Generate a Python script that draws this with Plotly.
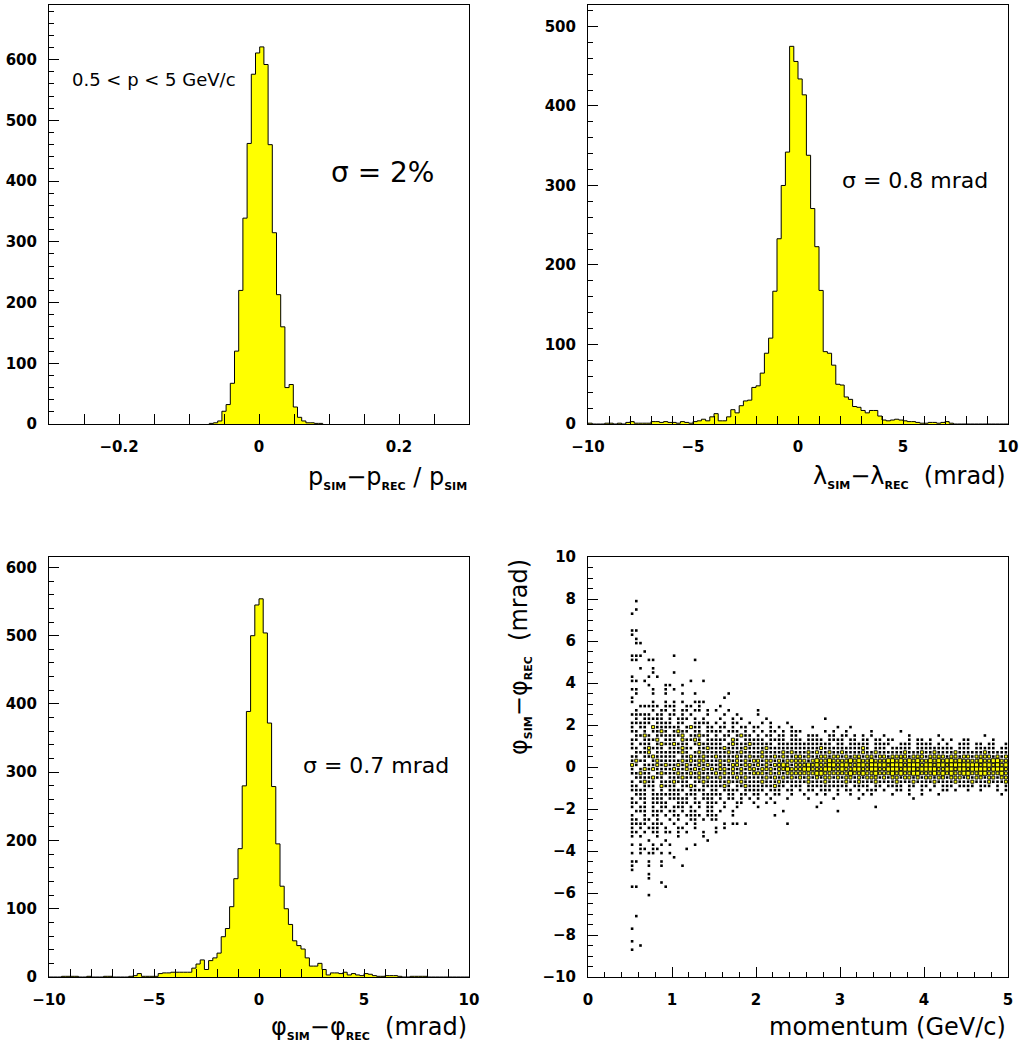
import numpy as np
import plotly.graph_objects as go

W, H = 1021, 1047

# ---------------- data ----------------
# (p_sim - p_rec)/p_sim histogram (top-left)
prel_first_edge = -0.071
prel_bin_width = 0.006
prel_counts = [1, 2, 5, 21, 32, 67, 120, 220, 339, 462, 576, 611, 621, 592, 460,
               315, 213, 160, 60, 65, 28, 11, 5, 2, 2, 1, 1]

# lambda_sim - lambda_rec histogram (top-right), 100 bins on [-10, 10] mrad
lam_lo, lam_hi = -10.0, 10.0
lam_counts = [1, 0, 0, 0, 1, 1, 0, 1, 0, 2,
              3, 1, 1, 1, 1, 3, 3, 2, 3, 2,
              2, 1, 3, 2, 1, 3, 4, 6, 4, 9,
              13, 4, 4, 9, 18, 14, 23, 29, 30, 46,
              48, 64, 89, 108, 167, 233, 300, 342, 475, 456,
              434, 414, 338, 271, 223, 168, 91, 89, 74, 50,
              49, 34, 31, 22, 21, 17, 14, 17, 17, 10,
              5, 4, 5, 6, 5, 4, 3, 3, 2, 1,
              1, 2, 2, 1, 2, 3, 1, 0, 0, 0,
              0, 0, 0, 0, 0, 0, 0, 0, 0, 0]

# phi_sim - phi_rec histogram (bottom-left), 100 bins on [-10, 10] mrad
phi_lo, phi_hi = -10.0, 10.0
phi_counts = [0, 0, 0, 1, 1, 1, 1, 0, 0, 1,
              0, 0, 0, 1, 1, 0, 0, 0, 0, 1,
              2, 5, 1, 1, 1, 1, 5, 6, 6, 7,
              7, 7, 7, 7, 13, 19, 25, 11, 24, 28,
              35, 59, 71, 103, 144, 188, 280, 389, 500, 545,
              554, 504, 372, 279, 195, 133, 100, 77, 53, 46,
              41, 28, 16, 16, 20, 11, 3, 6, 6, 5,
              7, 3, 5, 3, 2, 5, 4, 2, 1, 1,
              2, 2, 2, 1, 0, 0, 1, 1, 1, 1,
              0, 0, 0, 0, 0, 0, 0, 0, 0, 0]

# phi residual vs momentum, box-style 2D histogram (bottom-right)
# columns: momentum bins of 0.05 GeV/c from 0.5 to 5.0; rows: phi bins of 0.2 mrad
mom_centers = np.round(np.arange(0.525, 5.0, 0.05), 3)          # 90 columns
row_centers = np.round(np.arange(3.1, -3.2, -0.2), 1)            # 32 rows, +3.1 ... -3.1
# cell content level: '.' empty, '1' small, '2' medium, '3' large
box_map = [
    "1....1..1. 1.1..111..",
    "..11111.11 1..11.1... .1........",
    ".1...1.11. 1.11.11.1. 1..1...... 1.........",
    "11111.11.1 1.1.1...1. ..1..1.... 1.........",
    ".1.11111.1 .111.1.1.. .1..1.1... ..1....... ......1...",
    "11111.1111 .11..1111. 1.1.11..1. .1.1...1..",
    "1.11.21111 11.1211.11 .11.1.11.1 1..1.1..1. ...1.....1 ..1.......",
    "11.1.1121. 1211.11.11 11.111.1.1 .1.11.1.11 1.....1.1. .1.....1.. ....1.....",
    ".1121.1111 112.11211. 1.11.1211. 1.11.11.11 ..111..11. 11.1.1.1.. 1.....1... ...1...... ....1.....",
    "11.1112.11 1.21121.11 111.21.111 11.1111.11 1.1111.111 1.11.11.11 .11...1.11 .1..1.1..1 1.....1...",
    "1.111.1211 2111.12111 11.1211121 1111.11111 11111111.1 1.11111.11 11..111.11 11.1.1..11 1.11.11..1",
    "11.12111.1 11211.1121 1121111211 1121111111 1111121111 1111121.11 1.11111.11 1111111.11 1.11111.11",
    ".1112.1111 1121.12111 1112112111 1211112121 1121211211 2111121121 1111121112 1121111211 1111211111",
    "11.1121111 1.11211211 2111121121 1211212112 2121122122 1212212212 2122221222 1222212212 2122221212",
    "1211.12111 1121212211 1212121212 2122121222 2212322322 2232322322 2332323232 2323233232 2223223322",
    "21.1112121 1212112121 1211221221 2121223212 2232322332 3322332333 3233323332 3323323333 3332332323",
    "1.12121111 2112121212 1221212122 1222122322 2332223322 3223322332 2333233323 3332233233 2333323332",
    "11211.1211 1211212111 2121212112 2212121222 2222332222 2232232232 2232322332 2232323223 3223322232",
    ".1111211.1 1121112121 1211121211 1121212121 2121212212 1221212221 2122122121 2212212221 2122122122",
    "1.1211.111 2111.11211 1112112111 1211121111 1121112111 1211211121 1112111211 1121111211 1211121112",
    "11.111.211 1.1121.111 1121.11211 1111211.11 1.11111111 11.1111.11 .1111.11.1 1.1.111.11 11.111.1.1",
    "1111.1.1.1 111.1111.1 1.1111.111 11.111.11. 1.11.111.1 .11.1.111. 1..11.1..1 .1..11.1.. 1..1...1.1",
    ".111.11111 11.111.111 11.11.11.1 1.1.11..1. .1..1.1..1 ..1..1.1.. ..1...1..1 ...1...... ........1.",
    "1.11.111.1 1111.1.111 .1.11.1.1. 1..1...1.. ..1.....1. ....1..... .......1..",
    "11.1.1111. .111.11.11 1.1..11..1 ..1.1..... .....1....",
    "1.11.1.11. 111.1.1.11 ..1..1.... 1......... ....1..... ........1.",
    ".111.111.1 1.1.11..11 .1..1..... ......1... .........1",
    "1..1.11.1. 11.1111.11 1...1..... ....1.....",
    "11.11.1..1 .1..11.1.1 1.........",
    "1111.111.. 1..1.1.... ..1.11.1.. .......1..",
    "1.1.111.1. .11..1.... 1.1.......",
    "11.1.11.11 .1.1...1.. 1.........",
]
# isolated entries outside |phi| < 3.2 mrad
out_p = [0.575, 0.575, 0.525, 0.525, 0.575, 0.525, 0.575, 0.575, 0.625, 0.675,
         0.525, 0.575, 0.625, 1.025, 0.525, 0.575, 0.725, 0.775, 1.275, 0.625,
         0.775, 0.775, 1.025, 0.525, 0.725, 0.825, 0.525, 0.575, 0.675, 1.225,
         1.375, 0.725, 0.925, 0.975, 1.125, 0.525, 0.575, 0.775, 0.925, 1.025,
         0.575, 0.775, 0.925, 1.125, 1.275, 1.675, 0.525, 1.625,
         0.525, 0.625, 0.725, 0.825, 0.925, 1.075, 1.375, 1.425,
         0.525, 0.625, 0.775, 0.875, 0.975, 1.275, 0.625, 0.675, 0.775, 0.825,
         1.175, 0.525, 0.625, 0.725, 0.775, 0.875, 0.975, 1.025, 0.525, 0.575,
         0.725, 0.875, 1.125, 0.525, 0.725, 0.875, 0.525, 0.725, 0.725, 0.875,
         0.925, 0.525, 0.575, 0.725, 0.575, 0.525, 0.525, 0.625, 0.525]
out_phi = [7.9, 7.5, 7.3, 6.5, 6.5, 6.3, 6.1, 5.9, 5.9, 5.5,
           5.3, 5.3, 5.3, 5.3, 5.1, 5.1, 5.1, 5.1, 5.1, 4.7,
           4.7, 4.5, 4.5, 4.3, 4.3, 4.3, 4.1, 4.1, 4.1, 4.1,
           4.1, 3.9, 3.9, 3.9, 3.9, 3.7, 3.7, 3.7, 3.7, 3.7,
           3.5, 3.5, 3.5, 3.5, 3.5, 3.5, 3.3, 3.3,
           -3.3, -3.3, -3.5, -3.3, -3.5, -3.3, -3.3, -3.5,
           -3.7, -3.7, -3.7, -3.7, -3.7, -3.7, -3.9, -3.9, -3.9, -3.9,
           -3.9, -4.1, -4.1, -4.1, -4.1, -4.1, -4.1, -4.3, -4.5, -4.5,
           -4.5, -4.5, -4.7, -4.7, -4.7, -4.7, -4.9, -5.1, -5.3, -5.5,
           -5.7, -5.7, -5.7, -6.1, -7.1, -7.7, -8.3, -8.5, -8.7]

# ---------------- helpers ----------------
def step_xy(edges, counts):
    xs = [edges[0]] + list(edges[:-1]) + [edges[-1]]
    ys = [0] + list(counts) + [0]
    return xs, ys

def hist_trace(edges, counts, xa, ya):
    xs, ys = step_xy(edges, counts)
    return go.Scatter(x=xs, y=ys, mode="lines", line=dict(shape="hv", color="black", width=1),
                      fill="tozeroy", fillcolor="#ffff00", xaxis=xa, yaxis=ya,
                      hoverinfo="skip", showlegend=False)

prel_edges = prel_first_edge + prel_bin_width * np.arange(len(prel_counts) + 1)
lam_edges = np.linspace(lam_lo, lam_hi, len(lam_counts) + 1)
phi_edges = np.linspace(phi_lo, phi_hi, len(phi_counts) + 1)

fig = go.Figure()
fig.add_trace(hist_trace(prel_edges, prel_counts, "x", "y"))
fig.add_trace(hist_trace(lam_edges, lam_counts, "x2", "y2"))
fig.add_trace(hist_trace(phi_edges, phi_counts, "x3", "y3"))

# 2D box histogram cells
cells = {"1": ([], []), "2": ([], []), "3": ([], [])}
for j, row in enumerate(box_map):
    s = row.replace(" ", "").ljust(len(mom_centers), ".")[:len(mom_centers)]
    for i, c in enumerate(s):
        if c in cells:
            cells[c][0].append(mom_centers[i])
            cells[c][1].append(row_centers[j])
cells["1"][0].extend(out_p)
cells["1"][1].extend(out_phi)

styles = {
    "1": dict(symbol="square", size=2.6, color="black", line=dict(width=0)),
    "2": dict(symbol="square", size=3.0, color="#ffff00", line=dict(color="black", width=0.9)),
    "3": dict(symbol="square", size=4.0, color="#ffff00", line=dict(color="black", width=0.9)),
}
for k in ["1", "2", "3"]:
    fig.add_trace(go.Scatter(x=cells[k][0], y=cells[k][1], mode="markers", marker=styles[k],
                             xaxis="x4", yaxis="y4", hoverinfo="skip", showlegend=False))

# ---------------- layout ----------------
def px_x(a, b):
    return [a / W, b / W]

def px_y(top, bottom):
    return [1 - bottom / H, 1 - top / H]

TICKFONT = dict(family="DejaVu Sans", size=15, color="black", weight="bold")

def base_axis(domain, rng, anchor):
    return dict(domain=domain, range=rng, anchor=anchor, showline=True, linecolor="black",
                linewidth=1, mirror=True, ticks="inside", tickcolor="black", tickwidth=1,
                showgrid=False, zeroline=False, tickfont=TICKFONT, fixedrange=True,
                automargin=False)

def lab(v):
    return "<b>" + v.replace("-", "\u2212") + "</b>"

XL, XR = px_x(49, 469), px_x(588, 1008)
YT, YB = px_y(5, 424), px_y(556.5, 977)

# top-left x
tl_vals = [round(v, 2) for v in np.arange(-0.25, 0.2501, 0.05)]
tl_names = {-0.2: "-0.2", 0.0: "0", 0.2: "0.2"}
tl_text = [lab(tl_names[v]) if v in tl_names else "" for v in tl_vals]
xaxis = base_axis(XL, [-0.3, 0.3], "y")
xaxis.update(tickvals=tl_vals, ticktext=tl_text, ticklen=10, ticklabelstandoff=9)

mr_vals = list(range(-10, 11))
mr_text = [lab(str(v)) if v % 5 == 0 else "" for v in mr_vals]
xaxis2 = base_axis(XR, [-10, 10], "y2")
xaxis2.update(tickvals=mr_vals, ticktext=mr_text, ticklen=8, ticklabelstandoff=9)
xaxis3 = base_axis(XL, [-10, 10], "y3")
xaxis3.update(tickvals=mr_vals, ticktext=mr_text, ticklen=8, ticklabelstandoff=9)

def hist_y(domain, top, anchor):
    a = base_axis(domain, [0, top], anchor)
    a.update(tick0=0, dtick=100, ticklen=10, ticklabelstandoff=8,
             minor=dict(dtick=20, tick0=0, ticks="inside", ticklen=5, tickcolor="black"))
    return a

yaxis = hist_y(YT, 690, "x")
yaxis2 = hist_y(YT, 527, "x2")
yaxis3 = hist_y(YB, 616, "x3")

xaxis4 = base_axis(XR, [0, 5], "y4")
xaxis4.update(tick0=0, dtick=1, ticklen=10, ticklabelstandoff=9,
              minor=dict(dtick=0.2, tick0=0, ticks="inside", ticklen=5, tickcolor="black"))
yaxis4 = base_axis(px_y(557, 977), [-10, 10], "x4")
yaxis4.update(tick0=-10, dtick=2, ticklen=10, ticklabelstandoff=8,
              minor=dict(dtick=0.5, tick0=-10, ticks="inside", ticklen=5, tickcolor="black"))

def sub(s):
    return "<sub><span style='font-size:11px'><b>" + s + "</b></span></sub>"

TF = dict(family="DejaVu Sans", size=24, color="black")
NB = "\u00a0"

def ann(text, x, y, xanchor="left", yanchor="middle", size=None, angle=0):
    f = dict(TF)
    if size:
        f["size"] = size
    return dict(text=text, x=x / W, y=1 - y / H, xref="paper", yref="paper", xanchor=xanchor,
                yanchor=yanchor, showarrow=False, font=f, textangle=angle)

annotations = [
    ann("p" + sub("SIM") + "\u2212p" + sub("REC") + " / p" + sub("SIM"), 469, 478, xanchor="right"),
    ann("\u03bb" + sub("SIM") + "\u2212\u03bb" + sub("REC") + " " + NB + "(mrad)", 1008, 477, xanchor="right"),
    ann("\u03c6" + sub("SIM") + "\u2212\u03c6" + sub("REC") + " " + NB + "(mrad)", 469, 1028, xanchor="right"),
    ann("momentum (GeV/c)", 1008, 1027, xanchor="right"),
    ann("\u03c6" + sub("SIM") + "\u2212\u03c6" + sub("REC") + " " + NB + "(mrad)", 520, 557,
        xanchor="center", yanchor="top", angle=-90),
    ann("0.5 &lt; p &lt; 5 GeV/c", 70, 79, size=18),
    ann("\u03c3 = 2%", 329, 172, size=28),
    ann("\u03c3 = 0.8 mrad", 840, 180, size=22),
    ann("\u03c3 = 0.7 mrad", 301, 765, size=22),
]

fig.update_layout(
    width=W, height=H, margin=dict(l=0, r=0, t=0, b=0, autoexpand=False),
    paper_bgcolor="white", plot_bgcolor="white", showlegend=False,
    xaxis=xaxis, yaxis=yaxis, xaxis2=xaxis2, yaxis2=yaxis2,
    xaxis3=xaxis3, yaxis3=yaxis3, xaxis4=xaxis4, yaxis4=yaxis4,
    annotations=annotations,
)

fig.write_html("out.html", config={"displayModeBar": False})
